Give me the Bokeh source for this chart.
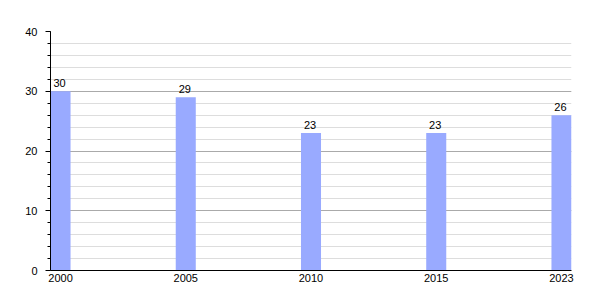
from bokeh.plotting import figure
from bokeh.models import ColumnDataSource, FixedTicker, Range1d, LabelSet
from bokeh.core.properties import value
from bokeh.embed import file_html
from bokeh.resources import INLINE

years = ["2000", "2005", "2010", "2015", "2023"]
values = [30, 29, 23, 23, 26]

xs = list(range(len(years)))
src = ColumnDataSource(dict(x=xs, top=values, label=[str(v) for v in values]))

p = figure(width=600, height=300, output_backend="svg", toolbar_location=None,
           x_range=Range1d(-0.08, len(years) - 1 + 0.08), y_range=Range1d(0, 40),
           min_border_left=50, min_border_right=29, min_border_top=31, min_border_bottom=30)
p.outline_line_color = None
p.background_fill_color = "white"

p.vbar(x="x", top="top", width=0.16, source=src, fill_color="#99AAFF", line_color=None)

labels = LabelSet(x="x", y="top", text="label", source=src, text_align="center",
                  text_baseline="bottom", y_offset=4, x_offset=-1,
                  text_font_size=value("11px"), text_font=value("Liberation Sans"),
                  text_color="#000000")
p.add_layout(labels)

p.xgrid.grid_line_color = None
p.ygrid.grid_line_color = "#AAAAAA"
p.ygrid.minor_grid_line_color = "#DDDDDD"
p.ygrid.ticker = FixedTicker(ticks=[0, 10, 20, 30, 40], minor_ticks=list(range(0, 41, 2)))

p.yaxis.ticker = FixedTicker(ticks=[0, 10, 20, 30, 40], minor_ticks=list(range(0, 41, 2)))
p.yaxis.major_tick_out = 5
p.yaxis.major_tick_in = 0
p.yaxis.minor_tick_out = 3
p.yaxis.minor_tick_in = 0
p.yaxis.major_label_standoff = 8
p.yaxis.axis_line_color = "black"
p.yaxis.major_tick_line_color = "black"
p.yaxis.minor_tick_line_color = "black"

p.xaxis.ticker = FixedTicker(ticks=xs)
p.xaxis.major_label_overrides = {i: y for i, y in enumerate(years)}
p.xaxis.major_tick_out = 0
p.xaxis.major_tick_in = 0
p.xaxis.minor_tick_line_color = None
p.xaxis.major_label_standoff = 3
p.xaxis.axis_line_color = "black"

for ax in (p.xaxis, p.yaxis):
    ax.major_label_text_font = "Liberation Sans"
    ax.major_label_text_font_size = "11px"
    ax.major_label_text_color = "#000000"

open("out.html", "w").write(file_html(p, INLINE))
